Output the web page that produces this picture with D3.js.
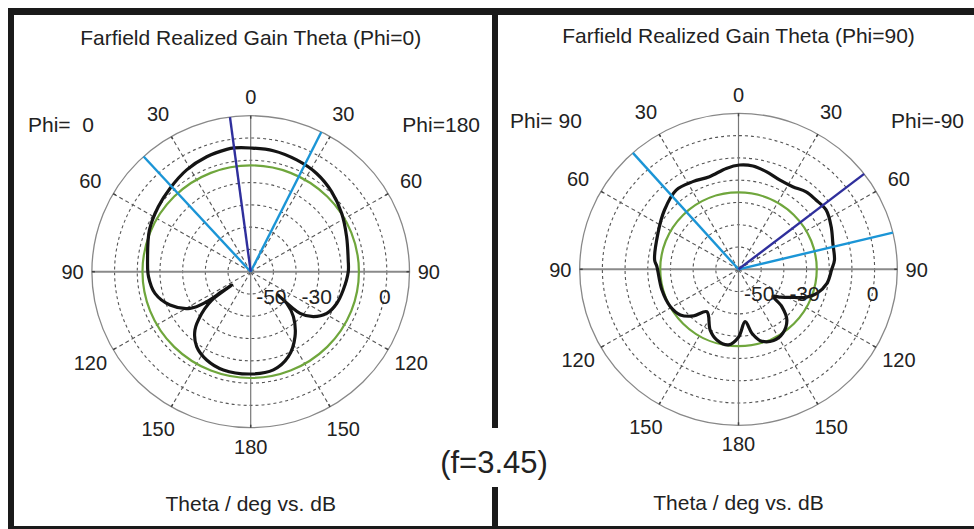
<!DOCTYPE html>
<html>
<head>
<meta charset="utf-8">
<script src="https://cdn.jsdelivr.net/npm/d3@7"></script>
<style>
  body { margin: 0; background: #fff; }
  svg { display: block; }
  text { font-family: "Liberation Sans", Arial, sans-serif; fill: #222; }
</style>
</head>
<body>
<svg id="chart" width="974" height="529"></svg>
<script>
// polar grid
const thetaTicks = [0, 30, 60, 90, 120, 150, 180, -150, -120, -90, -60, -30];
const dbRings = [-50, -40, -30, -20, -10, 0];
const dbLabels = [-50, -30, 0];
const dbDomain = [-60, 10];

// Phi=0 cut (screen angle clockwise from top, left half = Phi 0, right half = Phi 180)
const phi0Angle = [-180, -164.7, -153.9, -144.7, -136.8, -131, -128, -126.3, -125.5, -125,
  -124.8, -121.6, -112.8, -103, -92.8, -83, -67.3, -54.4, -43.6, -31.7,
  -20.6, -10.9, -7.5, 0, 10.4, 22, 33.4, 44.9, 56.9, 69.6,
  83, 90, 101.4, 110.6, 119.2, 126.2, 130.7, 131, 131.8, 137,
  146.2, 156.5, 167.2];
const phi0Gain = [-14.1, -14.3, -15.9, -18.8, -24.1, -31.4, -36.2, -39.8, -49.7, -44.4,
  -36.4, -28.6, -21.4, -16.7, -14.9, -14.2, -11.6, -9.9, -8.4, -6.3,
  -4.9, -4.1, -4.0, -4.5, -4.8, -5.9, -7.2, -9.4, -12.1, -14.9,
  -16.7, -17.0, -18.4, -19.5, -21.6, -25.8, -31.3, -44.1, -38.7, -32.4,
  -24.9, -18.4, -14.8];

// Phi=90 cut (left half = Phi 90, right half = Phi -90)
const phi90Angle = [-180, -172.6, -163.2, -155.4, -143.7, -136.6, -128.6, -119, -105.4, -88,
  -83.6, -65.6, -50.8, -37.7, -27.1, -17.1, -6.8, 0.5, 7.8, 15.6,
  24.3, 32.8, 40.6, 47.7, 55.4, 64.9, 74.3, 84.4, 90, 99.2,
  107.3, 113, 119, 124, 128.5, 131.2, 136.9, 145.8, 154.2, 163.4,
  168.4, 172.9];
const phi90Gain = [-29.5, -25.8, -26.9, -30, -36.4, -31.2, -27.2, -25.6, -25, -24,
  -22.8, -21, -17.9, -15.1, -15.8, -16.5, -14.4, -13.2, -13.2, -14.5,
  -16, -15.9, -14.2, -13.8, -13.1, -14.9, -16.8, -17.5, -18.9, -20.5,
  -23.8, -27.8, -34.1, -37.6, -40.5, -34.6, -28.8, -25.3, -24.5, -26.6,
  -30.7, -36.3];

// side lobe level circles, main lobe direction, 3 dB beam edges
const sideLobe = [-12.3, -25.5];
const mainDir = [-7.5, 52.3];
const beamEdges = [[-42.4, 26.4], [-41.7, 76.4]];

const titles = ["Farfield Realized Gain Theta (Phi=0)", "Farfield Realized Gain Theta (Phi=90)"];
const phiTags = [["Phi=  0", "Phi=180"], ["Phi= 90", "Phi=-90"]];
const xLabel = "Theta / deg vs. dB";
const freqNote = "(f=3.45)";

const svg = d3.select("#chart");
const R = 156, kx = 1.018;
const r = d3.scaleLinear().domain(dbDomain).range([0, R]);
const rad = a => a * Math.PI / 180;

// frame
const frameCol = "#1a1a1a";
svg.append("rect").attr("x", 8).attr("y", 8).attr("width", 966).attr("height", 7).attr("fill", frameCol);
svg.append("rect").attr("x", 8).attr("y", 8).attr("width", 6).attr("height", 521).attr("fill", frameCol);
svg.append("rect").attr("x", 8).attr("y", 526).attr("width", 966).attr("height", 3).attr("fill", frameCol);
svg.append("rect").attr("x", 492).attr("y", 8).attr("width", 6).attr("height", 420).attr("fill", frameCol);
svg.append("rect").attr("x", 492).attr("y", 487).attr("width", 6).attr("height", 42).attr("fill", frameCol);

svg.append("text").attr("x", 494).attr("y", 473).attr("text-anchor", "middle")
  .attr("font-size", 31).text(freqNote);

const panels = [
  { cx: 250.7, cy: 271.7, angle: phi0Angle, gain: phi0Gain },
  { cx: 738.5, cy: 269.3, angle: phi90Angle, gain: phi90Gain }
];

panels.forEach((p, i) => {
  const g = svg.append("g").attr("transform", `translate(${p.cx},${p.cy})`);
  const gs = g.append("g").attr("transform", `scale(${kx},1)`);

  // dotted rings
  gs.selectAll("circle.ring").data(dbRings).join("circle")
    .attr("r", d => r(d)).attr("fill", "none")
    .attr("stroke", "#555").attr("stroke-width", 1.1)
    .attr("stroke-dasharray", "3,3").attr("vector-effect", "non-scaling-stroke");

  // radial dashed spokes
  gs.selectAll("line.spoke").data(thetaTicks.filter(a => a % 90 != 0)).join("line")
    .attr("x1", 0).attr("y1", 0)
    .attr("x2", a => R * Math.sin(rad(a))).attr("y2", a => -R * Math.cos(rad(a)))
    .attr("stroke", "#555").attr("stroke-width", 1.1)
    .attr("stroke-dasharray", "4,3").attr("vector-effect", "non-scaling-stroke");

  // outer circle + axes
  gs.append("circle").attr("r", R).attr("fill", "none")
    .attr("stroke", "#888").attr("stroke-width", 1.3).attr("vector-effect", "non-scaling-stroke");
  gs.append("line").attr("x1", -R).attr("x2", R).attr("y1", 0).attr("y2", 0)
    .attr("stroke", "#8a8a8a").attr("stroke-width", 2).attr("vector-effect", "non-scaling-stroke");
  gs.append("line").attr("x1", 0).attr("x2", 0).attr("y1", -R).attr("y2", R)
    .attr("stroke", "#777").attr("stroke-width", 1.2).attr("vector-effect", "non-scaling-stroke");
  gs.selectAll("line.tick").data(thetaTicks).join("line")
    .attr("x1", a => (R - 3) * Math.sin(rad(a))).attr("y1", a => -(R - 3) * Math.cos(rad(a)))
    .attr("x2", a => R * Math.sin(rad(a))).attr("y2", a => -R * Math.cos(rad(a)))
    .attr("stroke", "#444").attr("stroke-width", 1.5).attr("vector-effect", "non-scaling-stroke");

  // side lobe level circle
  gs.append("circle").attr("r", r(sideLobe[i])).attr("fill", "none")
    .attr("stroke", "#6fa63c").attr("stroke-width", 2.2).attr("vector-effect", "non-scaling-stroke");

  // pattern
  const pts = p.angle.map((a, j) => [a, p.gain[j]]);
  const line = d3.lineRadial()
    .angle(d => rad(d[0]))
    .radius(d => r(d[1]))
    .curve(d3.curveCatmullRomClosed.alpha(0.5));
  gs.append("path").attr("d", line(pts)).attr("fill", "none")
    .attr("stroke", "#141414").attr("stroke-width", 3.2)
    .attr("stroke-linejoin", "round").attr("vector-effect", "non-scaling-stroke");

  // beam lines
  beamEdges[i].forEach(a => {
    gs.append("line").attr("x1", 0).attr("y1", 0)
      .attr("x2", R * Math.sin(rad(a))).attr("y2", -R * Math.cos(rad(a)))
      .attr("stroke", "#1b95d6").attr("stroke-width", 2.4).attr("vector-effect", "non-scaling-stroke");
  });
  gs.append("line").attr("x1", 0).attr("y1", 0)
    .attr("x2", R * Math.sin(rad(mainDir[i]))).attr("y2", -R * Math.cos(rad(mainDir[i])))
    .attr("stroke", "#2f2f9c").attr("stroke-width", 2.4).attr("vector-effect", "non-scaling-stroke");

  // theta labels
  g.selectAll("text.theta").data(thetaTicks).join("text")
    .attr("text-anchor", "middle").attr("dy", "0.36em").attr("font-size", 20)
    .attr("x", a => (175 + 8 * Math.abs(Math.sin(rad(2 * a)))) * Math.sin(rad(a)) * kx)
    .attr("y", a => -(175 + 8 * Math.abs(Math.sin(rad(2 * a)))) * Math.cos(rad(a)))
    .text(a => Math.abs(a));

  // dB labels
  g.selectAll("text.db").data(dbLabels).join("text")
    .attr("text-anchor", "middle").attr("font-size", 21)
    .attr("x", d => r(d) * kx - 2).attr("y", 32)
    .text(d => d);

  // titles
  const ox = i == 0 ? 0 : 487;
  svg.append("text").attr("x", p.cx).attr("y", i == 0 ? 45 : 43)
    .attr("text-anchor", "middle").attr("font-size", 21).text(titles[i]);
  svg.append("text").attr("x", ox + (i == 0 ? 28 : 23)).attr("y", i == 0 ? 132 : 128)
    .attr("font-size", 21).style("white-space", "pre").text(phiTags[i][0]);
  svg.append("text").attr("x", ox + (i == 0 ? 480 : 477)).attr("y", i == 0 ? 132 : 128)
    .attr("text-anchor", "end").attr("font-size", 21).style("white-space", "pre").text(phiTags[i][1]);
  svg.append("text").attr("x", p.cx).attr("y", i == 0 ? 511 : 510)
    .attr("text-anchor", "middle").attr("font-size", 21).text(xLabel);
});
</script>
</body>
</html>
